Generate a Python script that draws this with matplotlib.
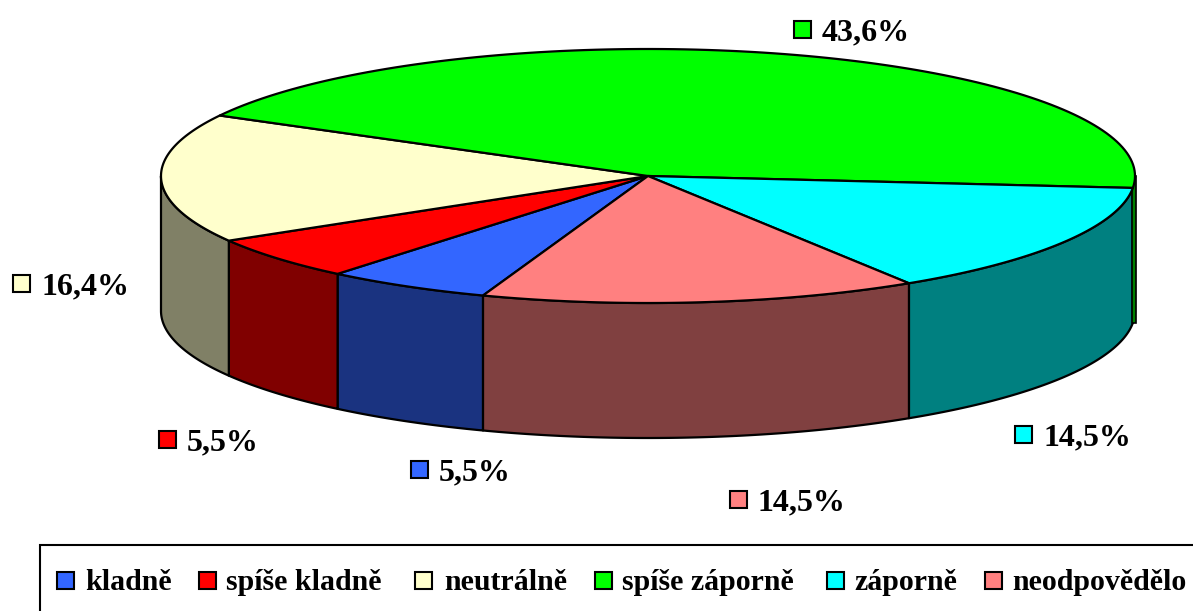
import numpy as np
import matplotlib
matplotlib.use('Agg')
import matplotlib.pyplot as plt
from matplotlib.patches import Polygon, Rectangle

categories = ['kladně', 'spíše kladně', 'neutrálně', 'spíše záporně', 'záporně', 'neodpovědělo']
values = [5.5, 5.5, 16.4, 43.6, 14.5, 14.5]
value_labels = ['5,5%', '5,5%', '16,4%', '43,6%', '14,5%', '14,5%']
top_colors = ['#3366FF', '#FF0000', '#FFFFCC', '#00FF00', '#00FFFF', '#FF8080']
side_colors = ['#1A3380', '#800000', '#808066', '#008000', '#008080', '#804040']

# label marker left edge and centre height, in pixels
label_pos = [(411, 469), (159, 439), (13, 283), (794, 29), (1015, 434), (730, 499)]
legend_marker = [57, 199, 415, 595, 827, 985]
legend_text = [85, 226, 444, 622, 854, 1012]

cx, cy, rx, ry, depth = 648, 176, 487, 127, 135
start_angle = 109.8  # first slice starts here, runs towards the back

plt.rcParams['font.family'] = ['Liberation Serif', 'DejaVu Serif']
fig = plt.figure(figsize=(11.93, 6.11), dpi=100)
ax = fig.add_axes([0, 0, 1, 1])
ax.set_xlim(0, 1193)
ax.set_ylim(611, 0)
ax.axis('off')


def rim(a0, a1, dy=0):
    t = np.radians(np.linspace(a0, a1, 120))
    return np.column_stack([cx + rx * np.cos(t), cy + dy + ry * np.sin(t)])


edges = start_angle + np.concatenate([[0], np.cumsum(values)]) * 3.6
lw = 1.6

# side walls, only the part of the rim that faces the viewer
for i in range(len(values)):
    a0, a1 = edges[i], edges[i + 1]
    # front half of the rim is 0..180 or 360..540
    for lo, hi in [(0, 180), (360, 540)]:
        s, e = max(a0, lo), min(a1, hi)
        if s < e:
            pts = np.vstack([rim(s, e), rim(s, e, depth)[::-1]])
            ax.add_patch(Polygon(pts, closed=True, fc=side_colors[i], ec='black', lw=lw, joinstyle='round'))

# sliver of the green wall at the far right
ax.add_patch(Rectangle((1132, 176), 4, 147, fc=side_colors[3], ec='black', lw=1.2, zorder=1.5))

# top slices
for i in range(len(values)):
    pts = np.vstack([[cx, cy], rim(edges[i], edges[i + 1])])
    ax.add_patch(Polygon(pts, closed=True, fc=top_colors[i], ec='black', lw=lw, joinstyle='round', zorder=3))

# value labels
for i in range(len(values)):
    x, y = label_pos[i]
    ax.add_patch(Rectangle((x, y - 8.5), 17, 17, fc=top_colors[i], ec='black', lw=1.5, zorder=4))
    ax.text(x + 28, y + 3.5, value_labels[i], fontsize=23, fontweight='bold', va='center', ha='left', zorder=4)

# legend box runs off the right edge of the picture
ax.add_patch(Rectangle((40, 545), 1175, 80, fc='white', ec='black', lw=1.5, clip_on=True))
for i in range(len(categories)):
    ax.add_patch(Rectangle((legend_marker[i], 572), 17, 17, fc=top_colors[i], ec='black', lw=1.5, zorder=4))
    ax.text(legend_text[i], 582, categories[i], fontsize=21.5, fontweight='bold', va='center', ha='left', zorder=4)

fig.savefig('out.png', dpi=100)
